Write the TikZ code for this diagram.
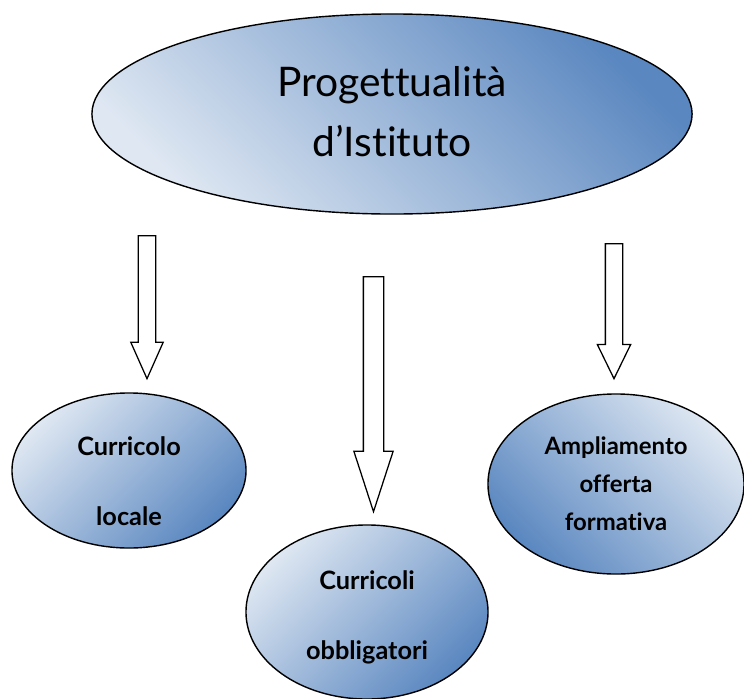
\documentclass[tikz,border=0pt]{standalone}
\usepackage{fontspec}
\setmainfont{Lato}[Ligatures=NoCommon]
\usepackage{tikz}
\usetikzlibrary{
	shapes.geometric,
	shapes.arrows,
	positioning
}
\definecolor{BlueDark}{RGB}{90,135,192}
\definecolor{BlueLight}{RGB}{222,231,242}

\tikzset{
	bubble/.style={ellipse, draw=black, line width=1pt, inner sep=0pt},
	bigtext/.style={font=\fontsize{29}{42.7}\selectfont, align=center},
	smalltext/.style 2 args={font=\fontsize{#1}{#2}\selectfont\bfseries, align=center},
	downarrow/.style={single arrow, draw=black, line width=0.9pt, fill=white,
		rotate=-90, anchor=tail, inner xsep=0pt, inner ysep=0pt}
}

\begin{document}
\begin{tikzpicture}[x=0.025cm, y=-0.025cm]
	\useasboundingbox (0,0) rectangle (744,698);

	% ellisse principale
	\node[bubble, minimum width=15cm, minimum height=5cm,
		top color=BlueDark, bottom color=BlueLight, shading angle=-45] (prog) at (392,114) {};
	\node[bigtext] (progtxt) at (392,112) {Progettualità\\d’Istituto};

	% frecce
	\node[downarrow, minimum height=3.575cm, inner ysep=0.2cm,
		single arrow head extend=0.19cm, single arrow tip angle=48] (arrL) at (147,235) {};
	\node[downarrow, minimum height=5.875cm, inner ysep=0.2375cm,
		single arrow head extend=0.2375cm, single arrow tip angle=36] (arrM) at (373.5,276) {};
	\node[downarrow, minimum height=3.375cm, inner ysep=0.2cm,
		single arrow head extend=0.2cm, single arrow tip angle=52] (arrR) at (614,243) {};

	% ellissi inferiori
	\node[bubble, minimum width=5.85cm, minimum height=3.875cm,
		top color=BlueLight, bottom color=BlueDark, shading angle=45] (curloc) at (129,470.5) {};
	\node[smalltext={18}{49.8}] (curloctxt) at (129,481) {Curricolo\\locale};

	\node[bubble, minimum width=6.05cm, minimum height=4.35cm,
		top color=BlueLight, bottom color=BlueDark, shading angle=45] (curobb) at (367,612) {};
	\node[smalltext={18}{49.8}] (curobbtxt) at (367,617) {Curricoli\\obbligatori};

	\node[bubble, minimum width=6.4cm, minimum height=4.5cm,
		top color=BlueLight, bottom color=BlueDark, shading angle=-45] (ampl) at (616,484) {};
	\node[smalltext={17}{27}] (ampltxt) at (616,484) {Ampliamento\\offerta\\formativa};
\end{tikzpicture}
\end{document}
